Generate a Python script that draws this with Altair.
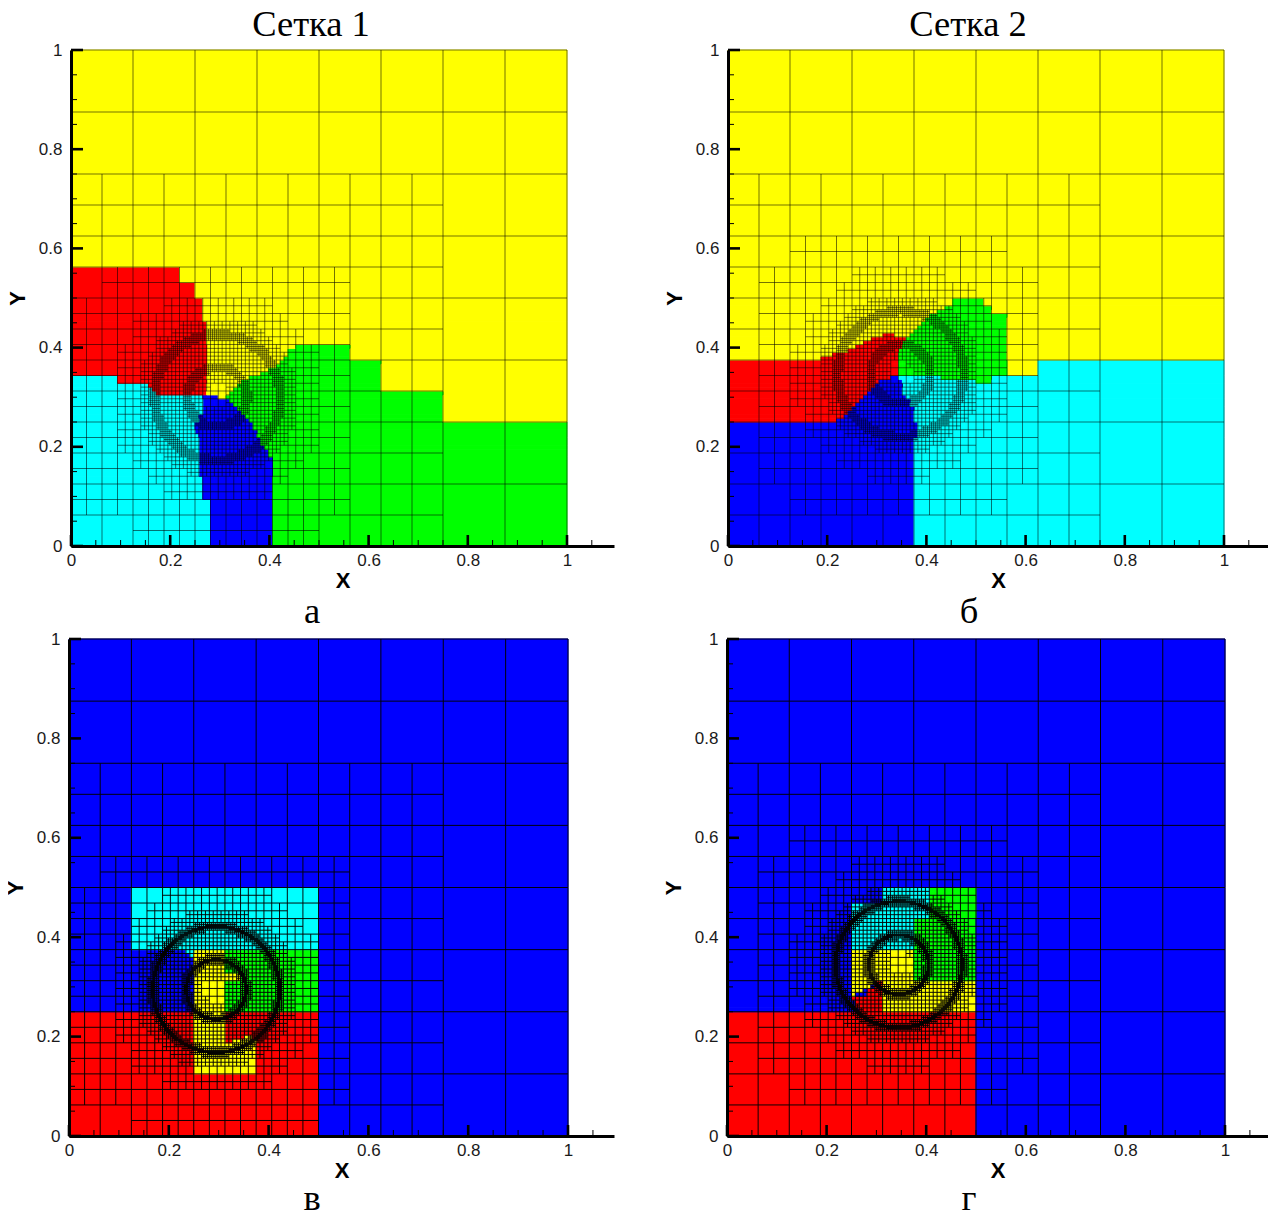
import math
import altair as alt
import pandas as pd

alt.data_transformers.disable_max_rows()

Y, R, C, G, B = "#ffff00", "#ff0000", "#00ffff", "#00ff00", "#0000ff"

# colour regions: (colour, vertices), painted in order
REGIONS_A = [
    (G, [(1, .25), (.75, .25), (.75, .3125), (.625, .3125), (.625, .375), (.5625, .375), (.5625, .40625),
         (.455, .40625), (.438, .392), (.415, .3615), (.354, .338), (.314, .301), (.3676, .244), (.388, .2036),
         (.406, .1734), (.406, 0), (1, 0)]),
    (B, [(.406, 0), (.406, .1734), (.388, .2036), (.3676, .244), (.314, .296), (.294, .296), (.294, .304),
         (.2655, .304), (.2655, .274), (.25, .247), (.2567, .2137), (.2567, .14), (.2655, .14), (.2655, .09375),
         (.28125, .09375), (.28125, 0)]),
    (C, [(0, 0), (.28125, 0), (.28125, .09375), (.2655, .09375), (.2655, .14), (.2567, .14), (.2567, .2137),
         (.25, .247), (.2655, .274), (.2655, .304), (.1727, .308), (.149, .328), (.0934, .328), (.0934, .34375),
         (0, .34375)]),
    (R, [(0, .34375), (.0934, .34375), (.0934, .328), (.149, .328), (.1727, .308), (.277, .304), (.277, .42),
         (.2735, .4187), (.2735, .453), (.2656, .453), (.2656, .5), (.25, .5), (.25, .53125), (.21875, .53125),
         (.21875, .5625), (0, .5625)]),
]
REGIONS_B = [
    (C, [(.375, 0), (1, 0), (1, .375), (.625, .375), (.625, .34375), (.344, .34375), (.352, .3145), (.3737, .274),
         (.3837, .227), (.375, .2137)]),
    (G, [(.4543, .5), (.515, .5), (.515, .484), (.5316, .484), (.5316, .469), (.5625, .469), (.5625, .34375),
         (.5316, .34375), (.5316, .328), (.5, .328), (.5, .3367), (.344, .34375), (.344, .388), (.36, .422),
         (.414, .469), (.441, .484), (.4543, .484)]),
    (B, [(0, 0), (.375, 0), (.375, .2137), (.3837, .227), (.3737, .274), (.352, .3145), (.347, .3434), (.3065, .3347),
         (.28, .308), (.239, .264), (.2124, .25), (0, .25)]),
    (R, [(0, .25), (.2124, .25), (.239, .264), (.28, .308), (.3065, .3347), (.347, .3434), (.344, .388), (.36, .42),
         (.32, .4288), (.28, .415), (.239, .392), (.1888, .382), (.1888, .375), (0, .375)]),
]
REGIONS_C = [
    (R, [(0, 0), (.5, 0), (.5, .25), (0, .25)]),
    (C, [(.125, .375), (.236, .375), (.24, .36), (.25, .36), (.25, .375), (.39, .375), (.39, .36), (.405, .375),
         (.5, .375), (.5, .5), (.125, .5)]),
    (G, [(.3125, .25), (.5, .25), (.5, .375), (.3125, .375)]),
    (Y, [(.25, .125), (.375, .125), (.375, .1875), (.366, .2046), (.3125, .186), (.3125, .375), (.25, .375)]),
    (Y, [(.3125, .3125), (.345, .3125), (.345, .33), (.3125, .33)]),
]
REGIONS_D = [
    (R, [(0, 0), (.5, 0), (.5, .25), (0, .25)]),
    (G, [(.4044, .5), (.5, .5), (.5, .3125), (.374, .3125), (.374, .436), (.4044, .436)]),
    (Y, [(.25, .375), (.374, .375), (.374, .3125), (.5, .3125), (.5, .25), (.3105, .25), (.3105, .3125), (.279, .297),
         (.25, .2817)]),
    (R, [(.25, .2817), (.279, .2817), (.279, .297), (.295, .297), (.295, .3125), (.3105, .3125), (.3105, .25),
         (.266, .25)]),
    (C, [(.3105, .5), (.4044, .5), (.4044, .436), (.374, .436), (.374, .375), (.25, .375), (.25, .4695), (.3105, .4695)]),
]

# refinement zones of the two meshes: (x0, x1, y0, y1)
L4_ZONE = [(0, .75, 0, .75)]
L5_MESH1 = [(.0625, .5625, .5, .5625), (0, .5625, .0625, .5), (.125, .5, 0, .0625)]
L5_MESH2 = [(.0625, .625, .125, .5625), (.125, .5625, .5625, .625), (.125, .5625, .0625, .125)]
RING_RADII = [.127, .06]
REACH_TOP = {5: .07, 6: .025, 7: .005}
REACH_BOTTOM = {5: .07, 6: .025, 7: .006, 8: .0012}

X_MAJOR = [0, .2, .4, .6, .8, 1]
Y_MAJOR = [0, .2, .4, .6, .8, 1]
X_MINOR = [.05, .1, .15, .25, .3, .35, .45, .5, .55, .65, .7, .75, .85, .9, .95, 1.05]
Y_MINOR = [.05, .1, .15, .25, .3, .35, .45, .5, .55, .65, .7, .75, .85, .9, .95]


def inside(px, py, poly):
    hit = False
    n = len(poly)
    for i in range(n):
        x1, y1 = poly[i]
        x2, y2 = poly[(i + 1) % n]
        if (y1 > py) != (y2 > py) and px < x1 + (py - y1) * (x2 - x1) / (y2 - y1):
            hit = not hit
    return hit


def raster(base, regions, n=128):
    grid = [[base] * n for _ in range(n)]
    for col, poly in regions:
        for j in range(n):
            for i in range(n):
                if inside((i + .5) / n, (j + .5) / n, poly):
                    grid[j][i] = col
    open_runs, out = {}, []
    for j in range(n + 1):
        runs = {}
        if j < n:
            i = 0
            while i < n:
                k = i
                while k < n and grid[j][k] == grid[j][i]:
                    k += 1
                runs[(i, k, grid[j][i])] = True
                i = k
        for key in list(open_runs):
            if key not in runs:
                i, k, col = key
                out.append({"x": i / n, "x2": k / n, "y": open_runs[key] / n, "y2": j / n, "c": col})
                del open_runs[key]
        for key in runs:
            open_runs.setdefault(key, j)
    return pd.DataFrame(out)


def ring_dist(x, y, h, cx, cy):
    dx = max(abs(x + h / 2 - cx) - h / 2, 0)
    dy = max(abs(y + h / 2 - cy) - h / 2, 0)
    near = math.hypot(dx, dy)
    fx = max(abs(x - cx), abs(x + h - cx))
    fy = max(abs(y - cy), abs(y + h - cy))
    far = math.hypot(fx, fy)
    best = 9
    for r in RING_RADII:
        d = 0 if near <= r <= far else min(abs(r - near), abs(r - far))
        best = min(best, d)
    return best


def in_zone(x, y, zones):
    return any(a <= x <= b and c <= y <= d for a, b, c, d in zones)


def mesh(l5, cx, cy, reach):
    vert, horz = {}, {}

    def leaf(x, y, h):
        vert.setdefault(x + h, []).append((y, y + h))
        horz.setdefault(y + h, []).append((x, x + h))

    def walk(x, y, lvl):
        h = 1 / 2 ** lvl
        mx, my = x + h / 2, y + h / 2
        if lvl == 3:
            split = in_zone(mx, my, L4_ZONE)
        elif lvl == 4:
            split = in_zone(mx, my, l5)
        elif lvl in reach:
            split = ring_dist(x, y, h, cx, cy) < reach[lvl]
        else:
            split = False
        if split:
            for a in (x, mx):
                for b in (y, my):
                    walk(a, b, lvl + 1)
        else:
            leaf(x, y, h)

    for i in range(8):
        for j in range(8):
            walk(i / 8, j / 8, 3)
    out = []

    def merged(segs):
        segs = sorted(segs)
        cur = list(segs[0])
        for a, b in segs[1:]:
            if a <= cur[1] + 1e-9:
                cur[1] = max(cur[1], b)
            else:
                yield tuple(cur)
                cur = [a, b]
        yield tuple(cur)

    for v, segs in vert.items():
        for a, b in merged(segs):
            out.append({"x": v, "x2": v, "y": a, "y2": b})
    for v, segs in horz.items():
        for a, b in merged(segs):
            out.append({"x": a, "x2": b, "y": v, "y2": v})
    return pd.DataFrame(out)


def panel(regions, base, l5, centre, ring_reach, top, caption, w, xmax, h, line_w, line_o, cap_x, cap_y, reach=None):
    xs = alt.Scale(domain=[0, xmax], nice=False, zero=False)
    ys = alt.Scale(domain=[0, 1], nice=False, zero=False)
    x_axis = alt.Axis(values=X_MAJOR, format="~g", ticks=False, grid=False, domainWidth=3, domainColor="black",
                      labelFont="Liberation Sans", labelFontSize=17, labelColor="#1a1a1a", labelPadding=6,
                      labelFlush=False, title="X", titleFont="Liberation Sans", titleFontSize=22, titleFontWeight="bold",
                      titleColor="black", titlePadding=2, zindex=1)
    y_axis = alt.Axis(values=Y_MAJOR, format="~g", ticks=False, grid=False, domainWidth=3, domainColor="black",
                      labelFont="Liberation Sans", labelFontSize=17, labelColor="#1a1a1a", labelPadding=9,
                      title="Y", titleFont="Liberation Sans", titleFontSize=22, titleFontWeight="bold",
                      titleColor="black", titlePadding=9, zindex=1)
    cells = alt.Chart(raster(base, regions)).mark_rect(strokeWidth=1).encode(
        x=alt.X("x:Q", scale=xs, axis=x_axis), x2="x2:Q",
        y=alt.Y("y:Q", scale=ys, axis=y_axis), y2="y2:Q",
        fill=alt.Fill("c:N", scale=None), stroke=alt.Stroke("c:N", scale=None))
    lines = alt.Chart(mesh(l5, *centre, ring_reach)).mark_rule(color="black", strokeWidth=line_w, opacity=line_o).encode(
        x=alt.X("x:Q", scale=xs), x2="x2:Q", y=alt.Y("y:Q", scale=ys), y2="y2:Q")

    def xt(vals, size, sw):
        return alt.Chart(pd.DataFrame({"v": vals})).mark_rule(color="black", strokeWidth=sw).encode(
            x=alt.X("v:Q", scale=xs), y=alt.value(h), y2=alt.value(h - size))

    def yt(vals, size, sw):
        return alt.Chart(pd.DataFrame({"v": vals})).mark_rule(color="black", strokeWidth=sw).encode(
            y=alt.Y("v:Q", scale=ys), x=alt.value(0), x2=alt.value(size))

    def label(txt, px, py):
        return alt.Chart(pd.DataFrame({"t": [txt]})).mark_text(
            font="Liberation Serif", fontSize=36.5, color="black", align="center", baseline="alphabetic").encode(
            text="t:N", x=alt.value(px), y=alt.value(py))

    parts = [cells, lines, xt(X_MINOR, 6, 1), yt(Y_MINOR, 6, 1), xt(X_MAJOR, 11, 2.6), yt(Y_MAJOR, 12, 2.6),
             label(caption, cap_x, cap_y)]
    if top:
        parts.append(label(top, cap_x - 1, -14))
    if reach is not None:
        parts.append(alt.Chart(pd.DataFrame({"v": [0]})).mark_rule(opacity=0).encode(
            x=alt.value(-reach), y=alt.value(0), y2=alt.value(h)))
    return alt.layer(*parts).properties(width=w, height=h)


def blank(w):
    return alt.Chart(pd.DataFrame({"v": [0]})).mark_rule(opacity=0).encode(
        x=alt.value(0), y=alt.value(0), y2=alt.value(1)).properties(width=w, height=1)


a = panel(REGIONS_A, Y, L5_MESH1, (.295, .3), REACH_TOP, "Сетка 1", "а", 543, 543 / 496, 496, 1, .55, 241, 573, reach=68)
b = panel(REGIONS_B, Y, L5_MESH2, (.348, .347), REACH_TOP, "Сетка 2", "б", 540, 540 / 496, 496, 1, .55, 241, 573)
c = panel(REGIONS_C, B, L5_MESH1, (.295, .295), REACH_BOTTOM, None, "в", 545, 545 / 499, 497, 1, .95, 243, 571, reach=68)
d = panel(REGIONS_D, B, L5_MESH2, (.345, .345), REACH_BOTTOM, None, "г", 541, 541 / 498, 497, 1, .95, 242, 571)

chart = alt.vconcat(
    alt.hconcat(blank(4), a, b, spacing=49),
    alt.hconcat(blank(3), c, d, spacing=48),
    spacing=-1,
).configure_view(stroke=None).properties(
    padding={"left": -58, "top": -1, "right": 0, "bottom": -5}, background="white")

chart.save("out.html", embed_options={"renderer": "svg", "actions": False})
